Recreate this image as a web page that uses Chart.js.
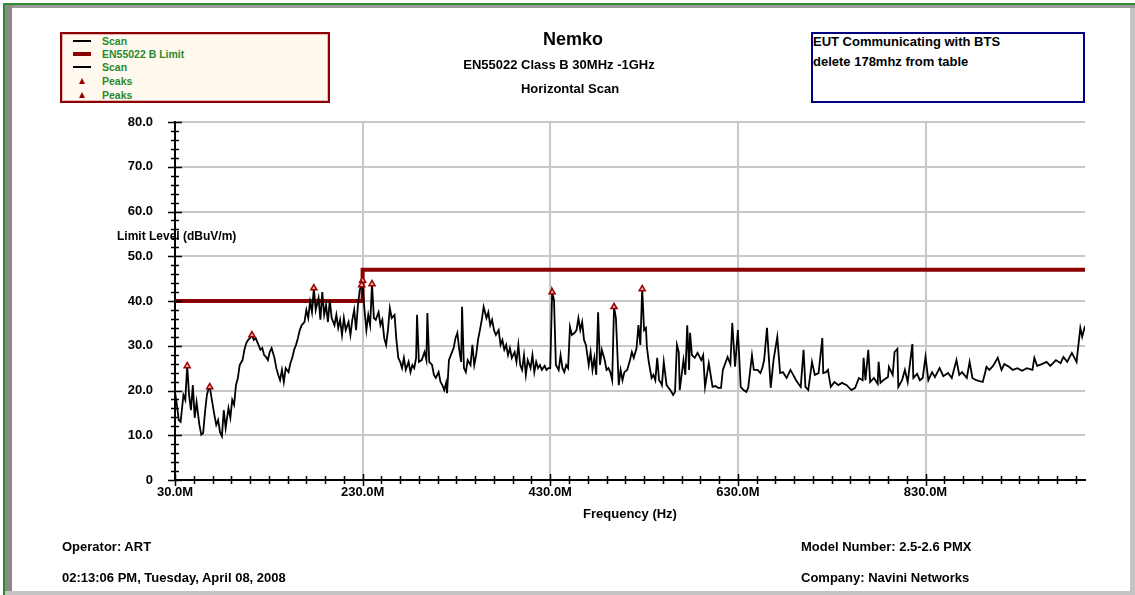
<!DOCTYPE html>
<html>
<head>
<meta charset="utf-8">
<script src="https://cdn.jsdelivr.net/npm/chart.js@4.4.0/dist/chart.umd.min.js"></script>
<style>
  body { margin:0; width:1135px; height:595px; overflow:hidden; background:#fff; position:relative;
         font-family:"Liberation Sans", Arial, sans-serif; font-weight:bold; }
  .abs { position:absolute; white-space:nowrap; }
  .t13 { font-size:13px; line-height:16px; color:#000; }
  #legend { left:60px; top:32px; width:266px; height:67px; background:#fff9ef;
            border:2px solid #8b0000; box-shadow: inset 0 0 0 1px #e8b8b8; }
  .row { position:absolute; left:0; height:14px; width:260px; }
  .row span { position:absolute; left:40px; top:0; font-size:10.5px; line-height:14px; color:#2a8a2a; }
  .swatch { position:absolute; left:11px; width:18px; }
  .tri { position:absolute; left:17px; top:4px; width:0; height:0;
         border-left:3.5px solid transparent; border-right:3.5px solid transparent; border-bottom:6px solid #990000; }
  #note { left:811px; top:32px; width:270px; height:67px; border:2px solid #000080; background:#fff; }
</style>
</head>
<body>
<!-- frame -->
<div class="abs" style="left:3px;top:3px;width:1132px;height:2px;background:#2e8b2e"></div>
<div class="abs" style="left:3px;top:3px;width:2px;height:592px;background:#2e8b2e"></div>
<div class="abs" style="left:5px;top:5px;width:1130px;height:3px;background:#9a9a9a"></div>
<div class="abs" style="left:5px;top:5px;width:7px;height:590px;background:#8a8a8a"></div>
<div class="abs" style="left:1130px;top:8px;width:5px;height:587px;background:#c4c4c4"></div>
<div class="abs" style="left:5px;top:591px;width:1130px;height:4px;background:#c4c4c4"></div>

<canvas id="myChart" width="1135" height="595" style="position:absolute;left:0;top:0"></canvas>

<div id="legend" class="abs">
  <div class="row" style="top:0px"><div class="swatch" style="top:6px;height:1.5px;background:#000"></div><span>Scan</span></div>
  <div class="row" style="top:13px"><div class="swatch" style="top:5px;height:4px;background:#8b0000"></div><span>EN55022 B Limit</span></div>
  <div class="row" style="top:26px"><div class="swatch" style="top:6px;height:1.5px;background:#000"></div><span>Scan</span></div>
  <div class="row" style="top:40px"><div class="tri"></div><span>Peaks</span></div>
  <div class="row" style="top:54px"><div class="tri"></div><span>Peaks</span></div>
</div>

<div id="note" class="abs">
  <div class="abs t13" style="left:0px;top:0px">EUT Communicating with BTS</div>
  <div class="abs t13" style="left:0px;top:20px">delete 178mhz from table</div>
</div>

<div class="abs" style="left:473px;top:28px;width:200px;text-align:center;font-size:18px;line-height:22px">Nemko</div>
<div class="abs t13" style="left:409px;top:57px;width:300px;text-align:center">EN55022 Class B 30MHz -1GHz</div>
<div class="abs t13" style="left:420px;top:81px;width:300px;text-align:center">Horizontal Scan</div>

<div class="abs" style="left:117px;top:229px;font-size:12px;line-height:14px">Limit Level (dBuV/m)</div>
<div class="abs t13" style="left:480px;top:506px;width:300px;text-align:center">Frequency (Hz)</div>

<div class="abs t13" style="left:62px;top:539px">Operator: ART</div>
<div class="abs t13" style="left:62px;top:570px">02:13:06 PM, Tuesday, April 08, 2008</div>
<div class="abs t13" style="left:801px;top:539px">Model Number: 2.5-2.6 PMX</div>
<div class="abs t13" style="left:801px;top:570px">Company: Navini Networks</div>

<script>
// scan trace (MHz / dBuV/m)
const scanFreq = [
  30,32,34,36,39,41,43,45,47,49,51,53,56,58,60,62,64,66,67,69,
  72,74,76,78,80,82,84,87,89,91,93,95,97,99,102,104,106,108,110,112,
  114,116,119,121,123,125,127,129,131,133,136,138,140,142,144,146,148,151,153,155,
  157,159,161,163,165,168,170,172,174,176,178,180,183,185,187,189,191,193,195,197,
  200,202,204,206,208,210,212,215,217,219,221,223,225,227,229.5,232,234,236,238,240,
  242,244,247,249,251,253,255,257,259,261,264,266,268,
  270,272,274,276,279,281,283,285,287,288,290,293,296,298,299,301,304,306,308,311,
  313,315,317,319,320,322,324,327,329,331,333,335,336,338,340,342,345,347,349,351,
  353,355,357,359,362,364,366,368,370,372,375,377,379,381,383,385,387,389,392,394,
  396,398,400,402,404,406,409,411,413,415,417,419,421,424,426,428,430,432,434,436,
  439,441,443,445,447,449,451,453,456,458,460,462,464,466,468,471,473,475,477,479,
  481,483,485,488,490,492,494,496,498,500,503,505,
  507,509,512,515,517,519,522,524,526,528,530,532,533,535,538,540,542,544,546,548,
  549,551,554,556,558,561,563,565,567,568,572,574,576,578,579,581,584,587,591,593,
  595,599,603,606,609,612,614,619,622,624,627,630,633,636,639,641,645,647,651,654,
  656,658,661,665,668,672,675,678,682,686,689,692,697,700,702,705,709,712,716,720,
  721,724,726,729,733,737,741,746,
  751,755,759,763,764,766,769,771,775,779,780,782,785,790,791,795,797,800,801,805,
  808,811,816,817,821,824,827,830,833,837,840,845,849,854,858,863,866,869,874,877,
  880,884,891,893,895,898,902,907,911,914,919,923,928,933,938,944,946,949,954,959,
  963,969,974,977,981,986,990,991,995,997,1000
];
const scanLevel = [
  19.7,16.8,13.4,13.0,19.0,17.9,25.5,19.0,15.6,21.2,13.9,17.4,12.3,10.1,10.5,15.2,19.0,20.6,20.8,18.3,
  14.5,12.3,13.4,10.7,9.8,15.6,11.6,16.1,13.9,17.9,16.8,21.2,22.8,25.7,26.8,29.1,30.6,31.3,31.7,32.4,
  31.3,31.7,30.2,29.1,29.5,27.9,27.5,26.8,28.6,29.5,27.3,25.0,23.5,22.3,24.6,21.9,25.0,24.1,26.1,27.3,
  29.1,30.2,31.7,33.5,34.6,35.3,38.0,36.2,39.8,37.5,42.9,38.0,40.7,35.8,42.0,36.9,39.1,35.3,40.2,36.2,
  34.6,36.9,34.0,35.8,32.4,36.2,33.5,35.3,32.4,35.8,38.0,33.5,39.1,42.5,44.0,38.0,33.5,36.9,34.6,43.8,
  36.2,35.8,37.5,34.6,35.8,31.7,30.2,33.5,38.4,36.2,36.9,31.3,27.3,
  26.4,25.0,27.3,24.6,26.4,24.1,25.7,25.0,27.3,36.9,26.4,26.8,28.6,26.8,37.3,26.4,25.7,23.5,22.8,24.1,
  21.9,21.2,20.1,21.7,19.4,26.8,27.9,29.5,31.7,32.9,29.1,26.4,38.7,25.0,24.1,26.8,25.7,30.2,25.7,27.9,
  31.3,33.5,35.8,38.7,36.2,37.5,34.6,35.8,33.5,32.4,33.5,30.2,31.3,29.1,30.2,27.9,29.5,27.3,28.6,26.4,
  30.2,25.7,24.6,27.9,23.5,26.8,25.0,27.9,24.1,26.4,25.0,25.7,24.6,25.5,24.6,25.0,25.0,42.0,40.2,25.7,
  24.6,27.9,25.0,24.1,25.7,25.0,34.2,32.4,32.9,33.5,36.2,33.5,35.3,31.3,30.2,25.7,28.6,24.6,27.3,23.5,
  37.5,25.7,29.1,26.8,24.6,25.0,24.1,22.3,38.7,36.2,21.2,24.6,
  22.3,24.1,24.6,26.8,28.6,27.3,29.5,34.6,30.2,42.7,33.5,34.0,29.7,26.4,22.8,23.5,22.3,27.3,22.3,21.7,
  21.2,26.4,21.2,20.6,20.1,19.0,19.7,30.2,28.6,20.1,26.8,23.5,34.6,24.6,32.9,27.9,27.3,28.4,26.8,27.9,
  20.8,26.1,20.8,21.0,20.6,20.6,24.6,27.5,25.9,35.1,25.3,33.5,20.8,20.1,19.7,20.6,27.9,24.6,24.6,23.9,
  25.0,26.8,34.0,20.6,26.8,32.0,23.9,24.1,22.8,24.6,23.5,22.3,20.8,29.1,20.8,20.1,26.4,23.5,23.9,31.7,
  23.9,24.1,24.6,20.8,21.9,21.2,21.7,21.2,
  20.1,20.6,22.8,22.3,27.3,22.3,29.1,21.9,22.8,21.5,26.4,21.7,22.3,23.0,25.3,23.5,28.6,29.3,20.8,22.3,
  24.6,21.9,30.4,22.8,23.7,22.3,22.8,27.5,22.3,24.1,23.0,25.0,23.2,23.9,22.8,26.8,23.5,24.1,22.8,26.4,
  22.8,22.3,21.9,23.5,25.3,24.6,25.5,27.3,24.6,25.9,25.3,24.6,25.0,24.4,25.0,24.6,27.3,25.5,25.9,26.4,
  25.5,26.8,26.1,27.5,26.4,28.4,26.8,26.4,34.0,32.0,34.4
];

// EN55022 class B limit
const limitFreq = [30, 230, 230, 1000];
const limitLevel = [40, 40, 47, 47];

// peak markers
const peakFreqA = [43, 67, 112, 178, 229];
const peakLevelA = [25.5, 20.8, 32.4, 42.9, 43.6];
const peakFreqB = [230, 240, 432, 498, 528];
const peakLevelB = [44.6, 43.8, 42.0, 38.7, 42.7];

const xTicks = [30, 230, 430, 630, 830];
const yTicks = [0, 10, 20, 30, 40, 50, 60, 70, 80];

const pts = (fs, ls) => fs.map((f, i) => ({ x: f, y: ls[i] }));
const FONT = { family: '"Liberation Sans", Arial, sans-serif', size: 13, weight: 'bold' };

// tick marks crossing both axes
const axisTicks = {
  id: 'axisTicks',
  afterDraw(chart) {
    const { ctx, chartArea: a, scales: { x, y } } = chart;
    ctx.save();
    ctx.strokeStyle = '#000';
    ctx.lineWidth = 1.5;
    ctx.beginPath();
    for (let v = 0; v <= 80; v += 2) {
      const py = Math.round(y.getPixelForValue(v)) + 0.5;
      const l = v % 10 === 0 ? 7 : 4;
      ctx.moveTo(a.left - l, py); ctx.lineTo(a.left + l, py);
    }
    for (let f = 30; f <= 1000; f += 20) {
      const px = Math.round(x.getPixelForValue(f)) + 0.5;
      const l = (f - 30) % 200 === 0 ? 6 : 4;
      ctx.moveTo(px, a.bottom - l); ctx.lineTo(px, a.bottom + l);
    }
    ctx.stroke();
    ctx.restore();
  }
};

const ctx = document.getElementById('myChart').getContext('2d');
const myChart = new Chart(ctx, {
  type: 'line',
  data: {
    datasets: [
      { label: 'Peaks', data: pts(peakFreqA, peakLevelA), showLine: false, order: 0,
        pointStyle: 'triangle', pointRadius: 3.5, pointBorderWidth: 1.5,
        pointBorderColor: '#990000', pointBackgroundColor: '#f0b0b0' },
      { label: 'Peaks', data: pts(peakFreqB, peakLevelB), showLine: false, order: 0,
        pointStyle: 'triangle', pointRadius: 3.5, pointBorderWidth: 1.5,
        pointBorderColor: '#990000', pointBackgroundColor: '#f0b0b0' },
      { label: 'Scan', data: pts(scanFreq, scanLevel), order: 1,
        borderColor: '#000', borderWidth: 1.8, pointRadius: 0, tension: 0 },
      { label: 'EN55022 B Limit', data: pts(limitFreq, limitLevel), order: 2,
        borderColor: '#8b0000', borderWidth: 4, pointRadius: 0, tension: 0 }
    ]
  },
  options: {
    responsive: false,
    animation: false,
    layout: { padding: { top: 122, right: 50, bottom: 0, left: 0 } },
    plugins: { legend: { display: false }, tooltip: { enabled: false } },
    scales: {
      x: {
        type: 'linear', min: 30, max: 1000,
        afterBuildTicks: s => { s.ticks = xTicks.map(v => ({ value: v })); },
        afterFit: s => { s.height = 115; },
        ticks: { autoSkip: false, maxRotation: 0, padding: 5, color: '#000', font: FONT,
                 callback: v => v.toFixed(1) + 'M' },
        grid: { color: '#c8c8c8', lineWidth: 2, drawTicks: false },
        border: { color: '#000', width: 2 }
      },
      y: {
        min: 0, max: 80,
        afterBuildTicks: s => { s.ticks = yTicks.map(v => ({ value: v })); },
        afterFit: s => { s.width = 175; },
        ticks: { padding: 22, color: '#000', font: FONT,
                 callback: v => v === 0 ? '0' : v.toFixed(1) },
        grid: { color: '#c8c8c8', lineWidth: 2, drawTicks: false },
        border: { color: '#000', width: 2 }
      }
    }
  },
  plugins: [axisTicks]
});
</script>
</body>
</html>
